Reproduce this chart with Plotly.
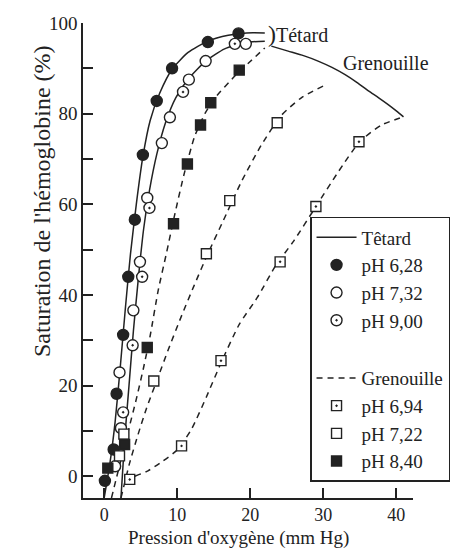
import plotly.graph_objects as go

# Hemoglobin O2 saturation, tadpole (Têtard) vs frog (Grenouille)

# --- measured points ---
ph628_x = [0.1, 1.3, 1.7, 2.6, 3.3, 4.2, 5.3, 7.2, 9.3, 14.2, 18.4]
ph628_y = [-1.0, 5.9, 18.2, 31.2, 44.0, 56.6, 70.9, 82.8, 90.0, 95.8, 97.7]

ph732_x = [1.5, 2.3, 2.1, 4.0, 4.9, 5.9, 7.9, 9.0, 11.6, 13.9, 19.4]
ph732_y = [2.2, 10.6, 22.9, 36.6, 47.3, 61.4, 73.5, 79.2, 87.5, 91.6, 95.4]

ph900_x = [2.6, 3.9, 5.2, 6.2, 10.8, 17.9]
ph900_y = [14.1, 28.9, 44.0, 59.2, 84.8, 95.4]

ph694_x = [3.5, 10.6, 16.0, 24.1, 29.0, 34.9]
ph694_y = [-0.7, 6.7, 25.5, 47.3, 59.5, 73.8]

ph722_x = [2.1, 2.7, 6.8, 14.0, 17.2, 23.7]
ph722_y = [4.5, 9.3, 21.0, 49.1, 60.8, 78.0]

ph840_x = [0.5, 2.8, 5.9, 9.5, 11.4, 13.2, 14.6, 18.5]
ph840_y = [1.8, 7.0, 28.4, 55.7, 68.9, 77.5, 82.4, 89.6]

# --- fitted curves ---
tetA_x = [0.0, 0.8, 1.5, 2.2, 2.9, 3.6, 4.4, 5.3, 6.3, 7.6, 9.3, 11.5, 14.2, 17.0, 19.5, 22.0]
tetA_y = [-4.8, 3, 12, 24, 37, 49, 60, 70.5, 78.5, 84.5, 89.8, 93.5, 96, 97.3, 97.8, 97.8]

tetB_x = [2.3, 2.8, 3.4, 4.0, 4.7, 5.4, 6.2, 7.2, 8.4, 9.8, 11.6, 13.9, 16.5, 19.4, 22.0]
tetB_y = [-4.8, 8, 20, 32, 44, 54.5, 63, 71, 78, 83.5, 87.8, 91.6, 94.3, 95.7, 96.0]

gr840_x = [1.0, 2.2, 3.3, 4.4, 5.4, 6.3, 7.4, 8.5, 9.7, 11.0, 12.4, 13.8, 15.2, 17.9, 20.0, 22.0]
gr840_y = [-4.8, 3, 10, 17, 24, 31, 41, 49, 58, 67, 75, 80, 83.5, 88.3, 91.5, 94.5]

gr722_x = [2.3, 3.5, 4.6, 5.8, 7.3, 8.8, 10.5, 12.3, 14.2, 16.2, 18.8, 21.5, 24.2, 27.0, 30.0]
gr722_y = [-4.8, 3, 9, 15, 21.5, 28, 35, 42, 49.1, 56, 65, 73, 79.5, 83.5, 86.1]

gr694_x = [4.2, 6.0, 8.0, 10.0, 12.0, 14.0, 16.0, 18.5, 21.0, 23.5, 26.0, 29.0, 32.0, 35.0, 38.0, 41.0]
gr694_y = [0, 1.2, 3.3, 5.8, 10.5, 17.5, 25, 33.5, 39.5, 46.5, 52, 59.5, 67, 73.8, 77.5, 79.3]

arc_x = [22.9, 25.2, 27.3, 29.3, 31.2, 33.0, 34.6, 36.2, 37.6, 38.9, 40.1, 41.0]
arc_y = [94.9, 93.8, 92.8, 91.6, 90.2, 88.6, 86.9, 85.0, 83.5, 82.0, 80.5, 79.3]

x_ticks = [0, 10, 20, 30, 40]
y_ticks = [0, 20, 40, 60, 80, 100]

INK = '#222222'
FONT = 'Liberation Serif'
DASH = '6px,5px'

fig = go.Figure()


def curve(x, y, dash=None, name=None, group=None, rank=None):
    fig.add_trace(go.Scatter(
        x=x, y=y, mode='lines', line_shape='spline',
        line=dict(color=INK, width=1.5, dash=dash, smoothing=0.6),
        name=name, showlegend=name is not None,
        legendgroup=group, legendrank=rank, hoverinfo='skip',
    ))


curve(tetA_x, tetA_y, name='Têtard', group='t', rank=1)
curve(tetB_x, tetB_y, group='t')
curve(gr694_x, gr694_y, dash=DASH, name='Grenouille', group='g', rank=5)
curve(gr722_x, gr722_y, dash=DASH, group='g')
curve(gr840_x, gr840_y, dash=DASH, group='g')
curve(arc_x, arc_y)


def points(x, y, name, symbol, fill, group, rank, size=11):
    fig.add_trace(go.Scatter(
        x=x, y=y, mode='markers', name=name,
        marker=dict(symbol=symbol, size=size, color=fill,
                    line=dict(color=INK, width=1.4)),
        legendgroup=group, legendrank=rank, cliponaxis=False,
    ))


points(ph628_x, ph628_y, 'pH 6,28', 'circle', INK, 't', 2)
points(ph732_x, ph732_y, 'pH 7,32', 'circle', 'white', 't', 3)
points(ph900_x, ph900_y, 'pH 9,00', 'circle-dot', 'white', 't', 4)
points(ph694_x, ph694_y, 'pH 6,94', 'square-dot', 'white', 'g', 6, 10)
points(ph722_x, ph722_y, 'pH 7,22', 'square', 'white', 'g', 7, 10)
points(ph840_x, ph840_y, 'pH 8,40', 'square', INK, 'g', 8, 10)

fig.add_annotation(x=22.1, y=97.6, xref='x', yref='y',
                   text="<span style='font-size:24px'>)</span>Tétard",
                   showarrow=False, xanchor='left', yanchor='middle',
                   font=dict(size=20, family=FONT, color=INK))
fig.add_annotation(x=38.6, y=91.2, xref='x', yref='y', text='Grenouille',
                   showarrow=False, xanchor='center', yanchor='middle',
                   font=dict(size=20, family=FONT, color=INK))
fig.add_annotation(x=-0.17, y=0.625, xref='paper', yref='paper',
                   text="Saturation de l'hémoglobine (%)", textangle=-90,
                   showarrow=False, font=dict(size=24, family=FONT, color=INK))
fig.add_annotation(x=0.47, y=-0.084, xref='paper', yref='paper',
                   text="Pression d'oxygène (mm Hg)",
                   showarrow=False, yanchor='middle',
                   font=dict(size=19, family=FONT, color=INK))

fig.update_layout(
    width=468, height=550,
    margin=dict(l=75, r=63, t=15, b=60, autoexpand=False),
    plot_bgcolor='white', paper_bgcolor='white',
    font=dict(family=FONT, size=19, color=INK),
    showlegend=True,
    legend=dict(
        x=0.688, y=0.592, xanchor='left', yanchor='top',
        bgcolor='white', bordercolor=INK, borderwidth=1.5,
        font=dict(size=19, family=FONT, color=INK),
        traceorder='grouped', tracegroupgap=30, itemwidth=40,
    ),
    xaxis=dict(
        range=[-2.9, 42.3], tickvals=x_ticks, ticks='inside', ticklen=10,
        tickwidth=1.5, tickcolor=INK, showline=True, linecolor=INK,
        linewidth=1.5, showgrid=False, zeroline=False,
        tickfont=dict(size=18),
    ),
    yaxis=dict(
        range=[-4.8, 100], tickvals=y_ticks, ticks='inside', ticklen=10,
        tickwidth=1.5, tickcolor=INK, showline=True, linecolor=INK,
        linewidth=1.5, showgrid=False, zeroline=False,
        tickfont=dict(size=19),
        minor=dict(dtick=10, tick0=0, ticks='inside', ticklen=10,
                   tickwidth=1.5, tickcolor=INK),
    ),
)

fig.write_html("out.html")
